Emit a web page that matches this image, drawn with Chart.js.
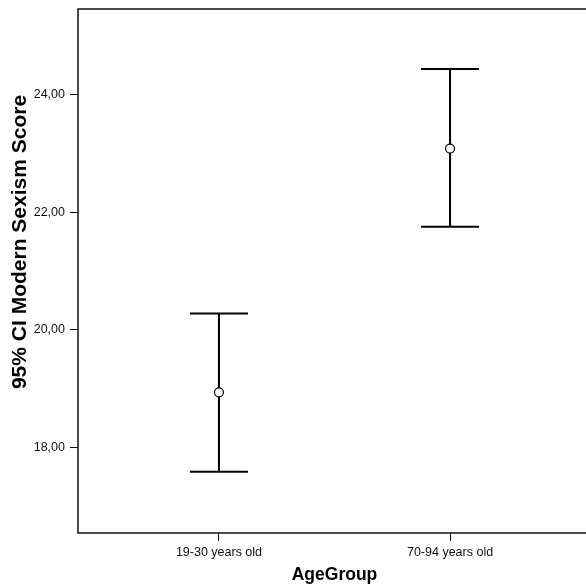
<!DOCTYPE html>
<html>
<head>
<meta charset="utf-8">
<script src="https://cdn.jsdelivr.net/npm/chart.js@4.4.1/dist/chart.umd.min.js"></script>
<style>
    html, body { margin: 0; padding: 0; background: #fff; overflow: hidden; }
    #wrap { width: 600px; height: 585px; }
</style>
</head>
<body>
<div id="wrap"><canvas id="chart" width="600" height="585"></canvas></div>
<script>
const ageGroups = ['19-30 years old', '70-94 years old'];
const groupPos = [1, 2];
const means = [18.94, 23.08];
const lower = [17.59, 21.75];
const upper = [20.28, 24.43];
const yTicks = [18, 20, 22, 24];
const yTitle = '95% CI Modern Sexism Score';

const FONT = "'Liberation Sans', Arial, sans-serif";

// whiskers + caps, drawn from the data through the scales
const errorBars = {
    id: 'errorBars',
    beforeDatasetsDraw(chart) {
        const { ctx, scales: { x, y } } = chart;
        ctx.save();
        ctx.strokeStyle = '#000';
        ctx.lineWidth = 2;
        groupPos.forEach((g, i) => {
            const px = x.getPixelForValue(g);
            const top = y.getPixelForValue(upper[i]);
            const bot = y.getPixelForValue(lower[i]);
            ctx.beginPath();
            ctx.moveTo(px, top); ctx.lineTo(px, bot);
            ctx.moveTo(px - 29, top); ctx.lineTo(px + 29, top);
            ctx.moveTo(px - 29, bot); ctx.lineTo(px + 29, bot);
            ctx.stroke();
        });
        ctx.restore();
    }
};

// frame round the plot + the y title (SPSS puts it a bit above centre)
const frame = {
    id: 'frame',
    afterDraw(chart) {
        const { ctx, chartArea: a } = chart;
        ctx.save();
        ctx.strokeStyle = '#111';
        ctx.lineWidth = 1.5;
        ctx.strokeRect(a.left, a.top, a.right - a.left, a.bottom - a.top);

        ctx.translate(20, 242);
        ctx.rotate(-Math.PI / 2);
        ctx.fillStyle = '#000';
        ctx.font = `bold 21px ${FONT}`;
        ctx.textAlign = 'center';
        ctx.textBaseline = 'middle';
        ctx.fillText(yTitle, 0, 0);
        ctx.restore();
    }
};

function noEdgePadding(s) {
    s.paddingTop = 0; s.paddingBottom = 0;
    s.paddingLeft = 0; s.paddingRight = 0;
}

new Chart(document.getElementById('chart'), {
    type: 'scatter',
    data: {
        datasets: [{
            data: groupPos.map((g, i) => ({ x: g, y: means[i] })),
            pointStyle: 'circle',
            pointRadius: 4.5,
            pointBackgroundColor: '#fff',
            pointBorderColor: '#000',
            pointBorderWidth: 1.2,
            showLine: false
        }]
    },
    options: {
        responsive: false,
        animation: false,
        events: [],
        layout: { padding: { top: 9, right: 9, left: 0, bottom: 0 } },
        plugins: { legend: { display: false }, tooltip: { enabled: false } },
        scales: {
            x: {
                type: 'linear',
                min: 0.39,
                max: 2.61,
                afterBuildTicks: s => { s.ticks = groupPos.map(v => ({ value: v })); },
                afterFit: s => { s.height = 52; noEdgePadding(s); },
                grid: { drawOnChartArea: false, drawTicks: true, tickLength: 8, color: '#000', lineWidth: 1 },
                border: { display: false },
                ticks: {
                    color: '#111', padding: 4, maxRotation: 0, autoSkip: false,
                    font: { family: FONT, size: 12.5 },
                    callback: v => ageGroups[groupPos.indexOf(v)]
                },
                title: { display: true, text: 'AgeGroup', color: '#000', padding: { top: 0, bottom: -1 }, font: { family: FONT, size: 17.5, weight: 'bold' } }
            },
            y: {
                min: 16.55,
                max: 25.45,
                afterBuildTicks: s => { s.ticks = yTicks.map(v => ({ value: v })); },
                afterFit: s => { s.width = 78; noEdgePadding(s); },
                grid: { drawOnChartArea: false, drawTicks: true, tickLength: 8, color: '#000', lineWidth: 1 },
                border: { display: false },
                ticks: {
                    color: '#111', padding: 5,
                    font: { family: FONT, size: 12.5 },
                    callback: v => v.toFixed(2).replace('.', ',')
                }
            }
        }
    },
    plugins: [errorBars, frame]
});
</script>
</body>
</html>
